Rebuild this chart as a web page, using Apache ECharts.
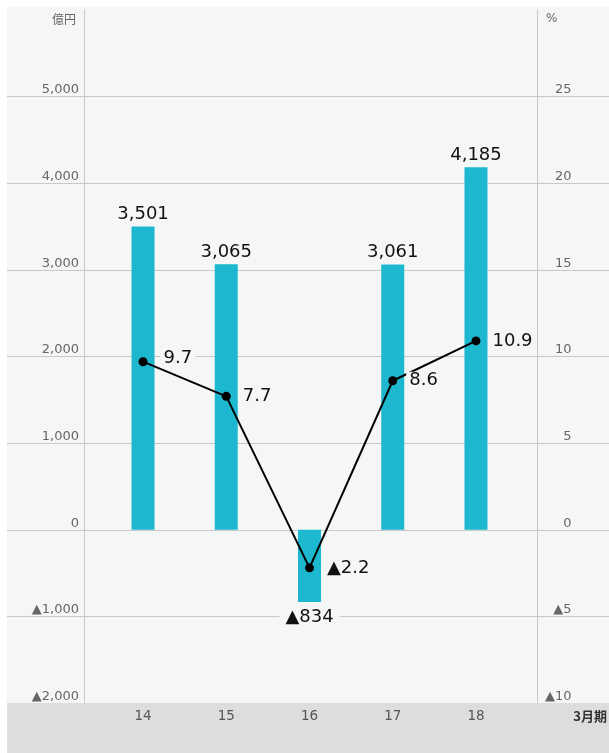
<!DOCTYPE html>
<html><head><meta charset="utf-8">
<script src="https://cdn.jsdelivr.net/npm/echarts@6/dist/echarts.min.js"></script>
<style>html,body{margin:0;padding:0;background:#fff}#c{width:609px;height:753px}</style>
</head><body><div id="c"></div>
<script>
// ---- data ----
const categories = ['14', '15', '16', '17', '18'];
const netIncome = [3501, 3065, -834, 3061, 4185];   // 億円 (left axis)
const roe = [9.7, 7.7, -2.2, 8.6, 10.9];            // % (right axis)
const leftAxisRange = [-2000, 6000, 1000];          // min, max, interval
const rightAxisRange = [-10, 30, 5];
const leftUnit = '億円';
const rightUnit = '%';
const periodLabel = '3月期';

// ---- styles ----
const FONT = "'DejaVu Sans', 'Noto Sans CJK JP', sans-serif";
const CJK = "'Noto Sans CJK JP', sans-serif";
const GRID_COLOR = '#c8c8c8';
const PANEL = '#f5f7f6';
const lineLabelOffsets = [[4, -3], [0, 0], [1, 0], [0, 0], [0, 0]];

function fmt(v) {
  const s = Math.abs(v).toLocaleString('en-US');
  return v < 0 ? '▲' + s : s;
}

const chart = echarts.init(document.getElementById('c'), null, {renderer: 'canvas'});
const gridBox = {top: 10, bottom: 50};

const option = {
  backgroundColor: '#ffffff',
  animation: false,
  graphic: [
    {type: 'rect', z: -10, shape: {x: 7, y: 7, width: 602, height: 696}, style: {fill: PANEL}},
    {type: 'rect', z: -10, shape: {x: 7, y: 703, width: 602, height: 50}, style: {fill: '#dcdddc'}},
    {type: 'text', x: 76, y: 19, style: {text: leftUnit, align: 'right', verticalAlign: 'middle', fontSize: 12, fontFamily: CJK, fill: '#666'}},
    {type: 'text', x: 546, y: 19, style: {text: rightUnit, align: 'left', verticalAlign: 'middle', fontSize: 12, fontFamily: FONT, fill: '#666'}},
    {type: 'text', x: 607, y: 716, style: {text: periodLabel, align: 'right', verticalAlign: 'middle', fontSize: 13, fontWeight: 'bold', fontFamily: CJK, fill: '#333'}}
  ],
  grid: [
    Object.assign({left: 7, right: 0}, gridBox),
    Object.assign({left: 84, right: 71.5}, gridBox),
    Object.assign({left: 101.4, right: 91.4}, gridBox)
  ],
  xAxis: [
    {gridIndex: 0, type: 'value', min: 0, max: 1, show: false},
    {gridIndex: 1, type: 'value', min: 0, max: 1, show: false},
    {gridIndex: 2, type: 'category', data: categories,
     axisLine: {show: false}, axisTick: {show: false}, splitLine: {show: false},
     axisLabel: {color: '#555', fontSize: 13.5, margin: 7, fontFamily: FONT}}
  ],
  yAxis: [
    {gridIndex: 0, type: 'value', min: leftAxisRange[0], max: leftAxisRange[1], interval: leftAxisRange[2],
     axisLine: {show: false}, axisTick: {show: false}, axisLabel: {show: false},
     splitLine: {show: true, showMaxLine: false, showMinLine: false, lineStyle: {color: GRID_COLOR, width: 1}}},
    {gridIndex: 1, type: 'value', position: 'left', min: leftAxisRange[0], max: leftAxisRange[1], interval: leftAxisRange[2],
     axisLine: {show: true, lineStyle: {color: GRID_COLOR, width: 1}}, axisTick: {show: false}, splitLine: {show: false},
     axisLabel: {formatter: fmt, color: '#666', fontSize: 13, margin: 5, verticalAlign: 'bottom', showMaxLabel: false, fontFamily: FONT}},
    {gridIndex: 1, type: 'value', position: 'right', min: rightAxisRange[0], max: rightAxisRange[1], interval: rightAxisRange[2],
     axisLine: {show: true, lineStyle: {color: GRID_COLOR, width: 1}}, axisTick: {show: false}, splitLine: {show: false},
     axisLabel: {formatter: fmt, color: '#666', fontSize: 13, margin: 34, align: 'right', verticalAlign: 'bottom', showMaxLabel: false, fontFamily: FONT}},
    {gridIndex: 2, type: 'value', position: 'left', min: leftAxisRange[0], max: leftAxisRange[1], interval: leftAxisRange[2], show: false},
    {gridIndex: 2, type: 'value', position: 'right', min: rightAxisRange[0], max: rightAxisRange[1], interval: rightAxisRange[2], show: false}
  ],
  series: [
    {
      type: 'bar', xAxisIndex: 2, yAxisIndex: 3, barWidth: 23,
      itemStyle: {color: '#1db8cf'},
      label: {show: true, position: 'top', distance: 3, fontSize: 18, color: '#111', fontFamily: FONT,
              formatter: p => fmt(p.value)},
      data: netIncome.map(v => v < 0
        ? {value: v, label: {position: 'bottom', distance: 6, backgroundColor: PANEL, padding: [0, 6]}}
        : {value: v})
    },
    {
      type: 'line', xAxisIndex: 2, yAxisIndex: 4, z: 5,
      symbol: 'circle', symbolSize: 9,
      lineStyle: {color: '#000', width: 2}, itemStyle: {color: '#000'},
      label: {show: true, position: 'right', distance: 9, fontSize: 18, color: '#111', fontFamily: FONT,
              backgroundColor: PANEL, padding: [0, 3], formatter: p => fmt(p.value)},
      data: roe.map((v, i) => ({value: v, label: {offset: lineLabelOffsets[i]}}))
    }
  ]
};
chart.setOption(option);
</script>
</body></html>
